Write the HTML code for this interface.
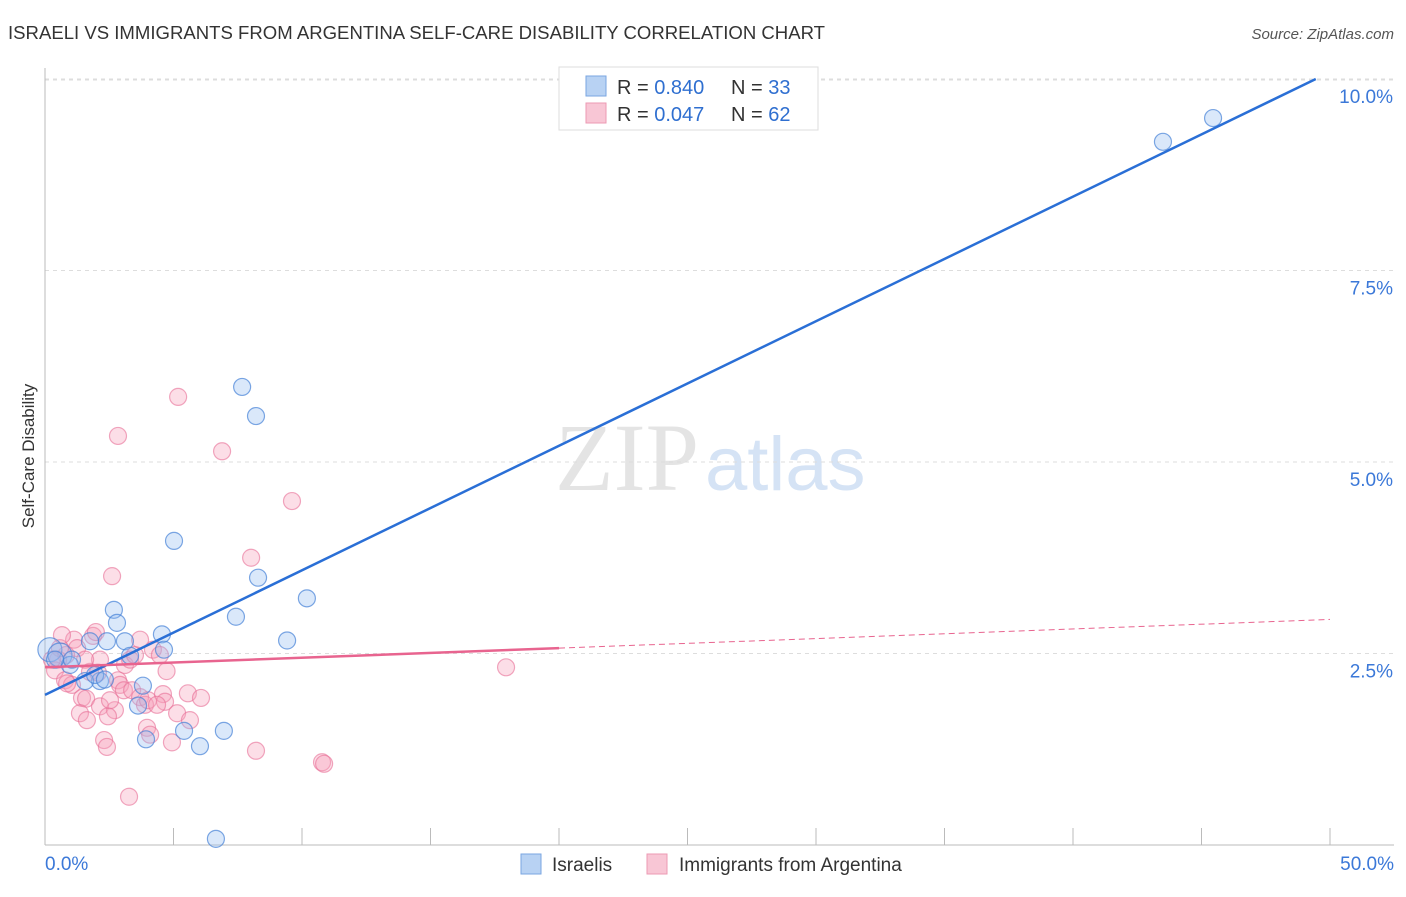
<!DOCTYPE html>
<html><head><meta charset="utf-8"><style>
body{margin:0;background:#fff;font-family:"Liberation Sans",sans-serif;}
svg text{font-family:"Liberation Sans",sans-serif;}
</style></head><body>
<svg id="chart" width="1406" height="892">
<text x="8" y="39" font-size="18" fill="#333" textLength="817" lengthAdjust="spacingAndGlyphs">ISRAELI VS IMMIGRANTS FROM ARGENTINA SELF-CARE DISABILITY CORRELATION CHART</text>
<text x="1394" y="39" font-size="15" fill="#555" text-anchor="end" font-style="italic">Source: ZipAtlas.com</text>
<text x="555" y="490" font-size="96" fill="#e4e4e4" font-family="Liberation Serif"><tspan font-family="Liberation Serif">ZIP</tspan><tspan dx="6" fill="#d5e3f5" font-family="Liberation Sans" font-size="76">atlas</tspan></text>
<text x="34" y="456" font-size="17" fill="#333" text-anchor="middle" transform="rotate(-90 34 456)">Self-Care Disability</text>
<g id="grid"></g><g id="axes"></g><g id="marks"></g>
<g>
<rect x="559" y="67" width="259" height="63" fill="#fff" stroke="#ddd"/>
<rect x="586" y="76" width="20" height="20" fill="#b8d2f3" stroke="#7aa6e0"/>
<rect x="586" y="103" width="20" height="20" fill="#f8c6d5" stroke="#ec9ab3"/>
<g font-size="20" fill="#333">
<text x="617" y="94">R = <tspan fill="#2f6fd0">0.840</tspan></text>
<text x="731" y="94">N = <tspan fill="#2f6fd0">33</tspan></text>
<text x="617" y="121">R = <tspan fill="#2f6fd0">0.047</tspan></text>
<text x="731" y="121">N = <tspan fill="#2f6fd0">62</tspan></text>
</g>
</g>
<g>
<rect x="521" y="854" width="20" height="20" fill="#b8d2f3" stroke="#7aa6e0"/>
<text x="552" y="871" font-size="19" fill="#333">Israelis</text>
<rect x="647" y="854" width="20" height="20" fill="#f8c6d5" stroke="#ec9ab3"/>
<text x="679" y="871" font-size="19" fill="#333">Immigrants from Argentina</text>
</g>
</svg>
<script>
const yTicks=[2.5,5.0,7.5,10.0];
const xTickLabels=["0.0%","50.0%"];
const blueX=[45.45,43.5,7.67,8.21,5.02,8.29,10.19,7.43,9.42,2.68,2.80,3.11,4.55,4.63,1.75,3.31,2.41,2.14,1.56,3.81,3.62,3.93,5.41,6.03,6.96,6.65,0.19,0.58,0.97,0.39,1.95,1.05,2.33];
const blueY=[9.49,9.18,5.98,5.60,3.97,3.49,3.22,2.98,2.67,3.07,2.90,2.66,2.75,2.55,2.66,2.47,2.66,2.14,2.14,2.08,1.82,1.38,1.49,1.29,1.49,0.08,2.55,2.48,2.35,2.42,2.22,2.42,2.16];
const pinkX=[5.18,2.84,6.89,9.61,8.02,2.61,17.94,10.78,10.86,8.21,3.27,1.13,1.87,1.98,1.25,0.82,0.51,0.39,0.78,1.05,1.75,2.06,3.11,3.31,3.50,4.20,4.47,4.73,2.84,2.92,3.07,3.39,3.70,3.89,4.01,4.59,4.67,5.56,6.07,5.14,1.44,1.60,1.36,1.63,2.14,2.72,2.45,2.30,2.41,3.97,4.09,4.94,0.86,0.58,0.27,0.66,2.14,1.56,3.70,4.36,2.53,5.64];
const pinkY=[5.85,5.34,5.14,4.49,3.75,3.51,2.32,1.08,1.06,1.23,0.63,2.68,2.73,2.78,2.57,2.48,2.42,2.28,2.15,2.09,2.26,2.25,2.35,2.42,2.48,2.55,2.48,2.27,2.15,2.09,2.02,2.02,1.93,1.83,1.89,1.97,1.87,1.98,1.92,1.72,1.92,1.91,1.72,1.63,1.81,1.76,1.68,1.37,1.28,1.53,1.44,1.34,2.11,2.57,2.42,2.74,2.42,2.42,2.68,1.83,1.89,1.63];
const blueFit=[1.96,0.1626];
const pinkFit=[2.32,0.0125];
const NS="http://www.w3.org/2000/svg";
const X=v=>45+v*25.7, Y=v=>845-v*76.6;
function mk(parent,tag,attrs){const e=document.createElementNS(NS,tag);for(const k in attrs)e.setAttribute(k,attrs[k]);document.getElementById(parent).appendChild(e);return e;}
yTicks.forEach(t=>{
 const g=mk('grid','line',{x1:45,x2:1394,y1:Y(t),y2:Y(t),stroke:'#ddd','stroke-dasharray':'4,4'});
 
 
 const l=mk('grid','text',{x:1393,y:Y(t)+24,'font-size':19,fill:'#3b78d8','text-anchor':'end'});
 l.textContent=t.toFixed(1)+'%';
 
 
});
mk('grid','line',{x1:45,x2:1394,y1:Y(10)+1,y2:Y(10)+1,stroke:'#ddd','stroke-dasharray':'4,4'});
const ya=mk('axes','line',{x1:45,x2:45,y1:68,y2:845,stroke:'#bbb'});


const xa=mk('axes','line',{x1:45,x2:1394,y1:845,y2:845,stroke:'#bbb'});


for(let i=1;i<=10;i++){const t=mk('axes','line',{x1:X(i*5),x2:X(i*5),y1:828,y2:845,stroke:'#bbb'});
 
 }
[[0,'start',45],[50,'end',1394]].forEach((d,i)=>{const t=mk('axes','text',{x:d[2],y:870,'font-size':19,fill:'#3b78d8','text-anchor':d[1]});t.textContent=xTickLabels[i];
 
 });
for(let i=0;i<pinkX.length;i++){const c=mk('marks','circle',{cx:X(pinkX[i]),cy:Y(pinkY[i]),r:8.5,fill:'rgba(245,160,185,0.35)',stroke:'rgba(232,110,150,0.6)','stroke-width':1.2});
 
 }
for(let i=0;i<blueX.length;i++){const c=mk('marks','circle',{cx:X(blueX[i]),cy:Y(blueY[i]),r:(i>=26&&i<=27)?12:8.5,fill:'rgba(150,190,240,0.35)',stroke:'rgba(70,130,215,0.7)','stroke-width':1.2});
 
 }
const bx2=(10-blueFit[0])/blueFit[1];
const bl=mk('marks','line',{x1:X(0),y1:Y(blueFit[0]),x2:X(bx2),y2:Y(10),stroke:'#2a6fd6','stroke-width':2.5});


const pl=mk('marks','line',{x1:X(0),y1:Y(pinkFit[0]),x2:X(20),y2:Y(pinkFit[0]+20*pinkFit[1]),stroke:'#e8648f','stroke-width':2.5});


const pd=mk('marks','line',{x1:X(20),y1:Y(pinkFit[0]+20*pinkFit[1]),x2:X(50),y2:Y(pinkFit[0]+50*pinkFit[1]),stroke:'#e8648f','stroke-width':1,'stroke-dasharray':'6,4'});


</script>
</body></html>
